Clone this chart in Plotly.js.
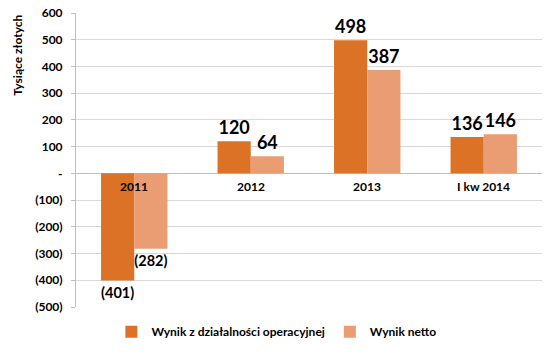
<!DOCTYPE html>
<html><head><meta charset="utf-8">
<script src="https://cdn.plot.ly/plotly-3.0.1.min.js"></script>
<style>body{margin:0}#c{width:550px;height:354px}</style>
</head><body><div id="c"></div>
<script>
const categories = ["2011", "2012", "2013", "I kw 2014"];
const operacyjny = [-401, 120, 498, 136];
const netto = [-282, 64, 387, 146];
const seriesNames = ["Wynik z działalności operacyjnej", "Wynik netto"];
const yTickVals = [600, 500, 400, 300, 200, 100, 0, -100, -200, -300, -400, -500];
const yTickText = ["600", "500", "400", "300", "200", "100", "-", "(100)", "(200)", "(300)", "(400)", "(500)"];
const yTitle = "Tysiące złotych";

const fmt = v => v < 0 ? "(" + Math.abs(v) + ")" : String(v);
const font = "Lato, 'Open Sans', sans-serif";

const traces = [
  {type: "bar", name: seriesNames[0], x: categories, y: operacyjny,
   text: operacyjny.map(fmt), textposition: "outside", cliponaxis: false,
   textfont: {family: font, size: 18, color: "#000", weight: "bold"},
   marker: {color: "#DC7225"}},
  {type: "bar", name: seriesNames[1], x: categories, y: netto,
   text: netto.map(fmt), textposition: "outside", cliponaxis: false,
   textfont: {family: font, size: 18, color: "#000", weight: "bold"},
   marker: {color: "#EA9C72"}}
];

const annotations = categories.map((c, i) => ({
  x: i, y: 0, xref: "x", yref: "y", yanchor: "top", yshift: -4,
  text: "<b>" + c + "</b>", showarrow: false,
  font: {family: font, size: 12, color: "#000"}
}));
annotations.push({
  x: (18 - 76) / (550 - 76 - 8), y: (354 - 39 - 57) / (354 - 13 - 39),
  xref: "paper", yref: "paper", xanchor: "center", yanchor: "middle",
  showarrow: false, textangle: -90,
  text: "<b>" + yTitle + "</b>", font: {family: font, size: 12, color: "#000"}
});

const layout = {
  width: 550, height: 354,
  margin: {l: 76, r: 8, t: 13, b: 39},
  paper_bgcolor: "#fff", plot_bgcolor: "#fff",
  font: {family: font, size: 12, color: "#000"},
  barmode: "group", bargap: 0.43, bargroupgap: 0,
  showlegend: true,
  legend: {orientation: "h", x: 0.43, xanchor: "center", y: -0.035, yanchor: "top",
    itemwidth: 30,
    font: {family: font, size: 12, color: "#000", weight: "bold"}, traceorder: "normal"},
  xaxis: {type: "category", showticklabels: false, showgrid: false, zeroline: false, showline: false,
    ticks: "", range: [-0.5, 3.5]},
  yaxis: {range: [-500, 600], tickvals: yTickVals, ticktext: yTickText,
    tickfont: {family: font, size: 12, color: "#000", weight: "bold"},
    ticklabelstandoff: 6,
    showgrid: true, gridcolor: "#D9D9D9", gridwidth: 1,
    zeroline: true, zerolinecolor: "#BFBFBF", zerolinewidth: 1,
    showline: true, linecolor: "#BFBFBF", ticks: "outside", ticklen: 4, tickcolor: "#BFBFBF"},
  annotations: annotations
};

Plotly.newPlot("c", traces, layout, {displayModeBar: false, staticPlot: true});
</script>
</body></html>
